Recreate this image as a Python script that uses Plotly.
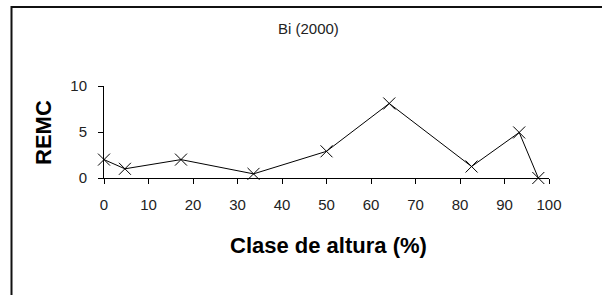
import plotly.graph_objects as go

# Data
clase_altura = [0, 4.7, 17.3, 33.6, 50, 64.1, 82.6, 93.3, 97.6]
remc = [2.0, 1.0, 2.0, 0.45, 2.9, 8.1, 1.25, 4.95, 0.0]
x_ticks = [0, 10, 20, 30, 40, 50, 60, 70, 80, 90, 100]
y_ticks = [0, 5, 10]
title_text = "Bi (2000)"
x_title = "Clase de altura (%)"
y_title = "REMC"

W, H = 602, 295
L, R, T, B = 104, 53, 86, 117
pw, ph = W - L - R, H - T - B

def px_x(p):
    return (p - L) / pw

def px_y(p):
    return (H - B - p) / ph

font_fam = "Arial, Liberation Sans, sans-serif"

fig = go.Figure()
fig.add_trace(go.Scatter(
    x=clase_altura, y=remc, mode="lines+markers",
    line=dict(color="black", width=1),
    marker=dict(symbol="x-thin", size=12, line=dict(color="black", width=1), color="black"),
    cliponaxis=False, showlegend=False, hoverinfo="skip",
))

fig.update_layout(
    width=W, height=H,
    margin=dict(l=L, r=R, t=T, b=B, pad=0),
    paper_bgcolor="white", plot_bgcolor="white",
    font=dict(family=font_fam, color="black"),
    xaxis=dict(range=[0, 100], tickvals=x_ticks, ticktext=[str(v) for v in x_ticks],
               showgrid=False, zeroline=False, showline=True, linecolor="black", linewidth=1,
               ticks="outside", ticklen=5, tickwidth=1, tickcolor="black",
               tickfont=dict(size=15, color="#222"), ticklabelstandoff=8),
    yaxis=dict(range=[0, 10], tickvals=y_ticks, ticktext=[str(v) for v in y_ticks],
               showgrid=False, zeroline=False, showline=True, linecolor="black", linewidth=1,
               ticks="outside", ticklen=5, tickwidth=1, tickcolor="black",
               tickfont=dict(size=15, color="#222"), ticklabelstandoff=8),
    shapes=[dict(type="rect", xref="paper", yref="paper",
                 x0=px_x(11.5), x1=px_x(640), y0=px_y(340), y1=px_y(7),
                 line=dict(color="#111", width=2), fillcolor="rgba(0,0,0,0)", layer="above")],
    annotations=[
        dict(text=title_text, xref="paper", yref="paper", x=px_x(308), y=px_y(28),
             xanchor="center", yanchor="middle", showarrow=False,
             font=dict(size=15, color="#222")),
        dict(text="<b>" + x_title + "</b>", xref="paper", yref="paper", x=px_x(328), y=px_y(245),
             xanchor="center", yanchor="middle", showarrow=False,
             font=dict(size=22, color="black")),
        dict(text="<b>" + y_title + "</b>", xref="paper", yref="paper", x=px_x(43), y=px_y(133),
             xanchor="center", yanchor="middle", showarrow=False, textangle=-90,
             font=dict(size=22, color="black")),
    ],
)

fig.write_html(
    "out.html",
    config={"displayModeBar": False},
    post_script="document.body.style.margin='0';document.body.style.overflow='hidden';",
)
